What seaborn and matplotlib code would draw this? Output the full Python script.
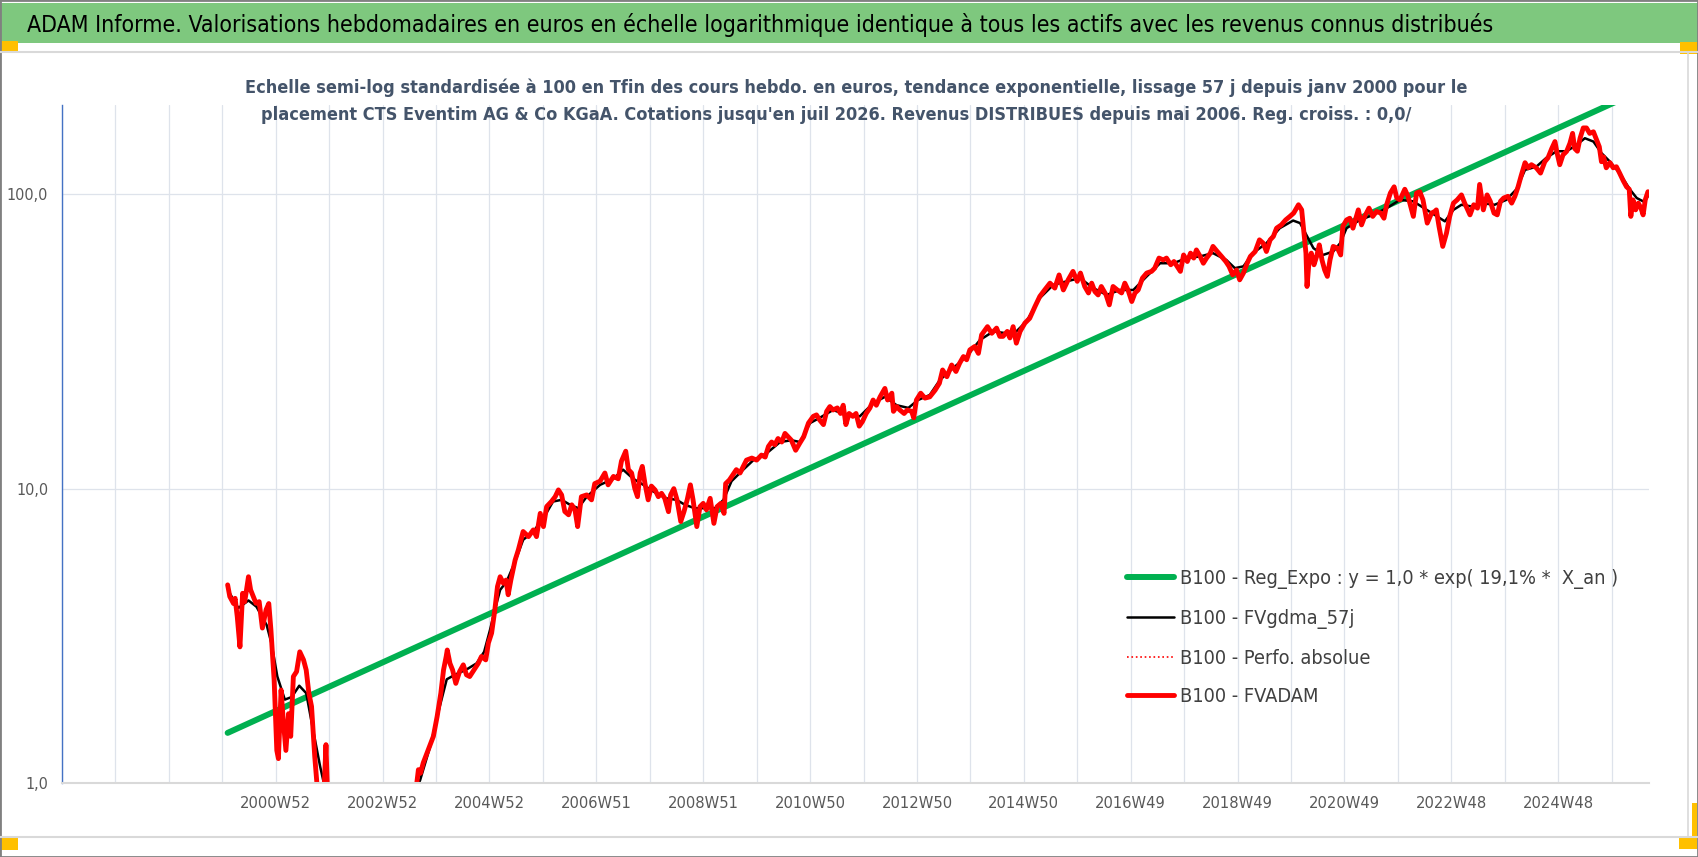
import matplotlib
matplotlib.use("Agg")
import matplotlib.pyplot as plt
import seaborn as sns
from matplotlib import font_manager
from matplotlib.font_manager import FontProperties
from matplotlib.patches import Rectangle
from matplotlib.lines import Line2D
from matplotlib.textpath import TextPath
from matplotlib.ticker import NullLocator

# ---- data (x = year position on the weekly axis) ----
red_year = [
    2000.10, 2000.14, 2000.21, 2000.24, 2000.28, 2000.33, 2000.38, 2000.42, 2000.49, 2000.53,
    2000.58, 2000.63, 2000.69, 2000.75, 2000.82, 2000.87, 2000.91, 2000.97, 2001.02, 2001.05,
    2001.10, 2001.14, 2001.19, 2001.24, 2001.28, 2001.33, 2001.39, 2001.45, 2001.52, 2001.57,
    2001.62, 2001.67, 2001.73, 2001.77, 2001.83, 2001.90, 2001.94, 2001.98, 2002.10, 2002.40,
    2002.70, 2003.00, 2003.30, 2003.55, 2003.64, 2003.67, 2003.71, 2003.76, 2003.85, 2003.95,
    2004.02, 2004.09, 2004.14, 2004.19, 2004.21, 2004.26, 2004.31, 2004.37, 2004.44, 2004.51,
    2004.57, 2004.63, 2004.71, 2004.79, 2004.85, 2004.93, 2004.98, 2005.04, 2005.10, 2005.15,
    2005.20, 2005.26, 2005.31, 2005.35, 2005.40, 2005.48, 2005.54, 2005.63, 2005.73, 2005.82,
    2005.88, 2005.95, 2006.01, 2006.07, 2006.16, 2006.23, 2006.29, 2006.35, 2006.41, 2006.48,
    2006.54, 2006.60, 2006.65, 2006.72, 2006.82, 2006.91, 2006.97, 2007.07, 2007.16, 2007.22,
    2007.32, 2007.41, 2007.47, 2007.55, 2007.60, 2007.66, 2007.72, 2007.77, 2007.82, 2007.86,
    2007.91, 2007.97, 2008.03, 2008.10, 2008.16, 2008.22, 2008.28, 2008.35, 2008.39, 2008.45,
    2008.51, 2008.58, 2008.64, 2008.70, 2008.76, 2008.81, 2008.88, 2008.94, 2009.00, 2009.06,
    2009.13, 2009.20, 2009.26, 2009.33, 2009.39, 2009.42, 2009.49, 2009.55, 2009.62, 2009.69,
    2009.75, 2009.81, 2009.91, 2010.00, 2010.09, 2010.16, 2010.22, 2010.28, 2010.34, 2010.40,
    2010.47, 2010.53, 2010.59, 2010.65, 2010.73, 2010.81, 2010.88, 2010.97, 2011.06, 2011.12,
    2011.18, 2011.25, 2011.31, 2011.37, 2011.43, 2011.51, 2011.57, 2011.62, 2011.67, 2011.73,
    2011.80, 2011.86, 2011.92, 2011.98, 2012.05, 2012.12, 2012.18, 2012.24, 2012.31, 2012.40,
    2012.45, 2012.53, 2012.56, 2012.62, 2012.68, 2012.76, 2012.82, 2012.90, 2012.94, 2012.99,
    2013.07, 2013.15, 2013.24, 2013.34, 2013.42, 2013.48, 2013.56, 2013.65, 2013.73, 2013.80,
    2013.87, 2013.93, 2013.99, 2014.08, 2014.15, 2014.21, 2014.32, 2014.40, 2014.49, 2014.55,
    2014.61, 2014.69, 2014.74, 2014.80, 2014.86, 2014.93, 2015.02, 2015.11, 2015.21, 2015.30,
    2015.39, 2015.49, 2015.58, 2015.66, 2015.74, 2015.83, 2015.92, 2016.00, 2016.06, 2016.14,
    2016.21, 2016.27, 2016.33, 2016.39, 2016.45, 2016.54, 2016.60, 2016.67, 2016.75, 2016.83,
    2016.89, 2016.95, 2017.02, 2017.08, 2017.14, 2017.22, 2017.30, 2017.39, 2017.45, 2017.53,
    2017.61, 2017.67, 2017.75, 2017.81, 2017.87, 2017.93, 2017.99, 2018.06, 2018.12, 2018.18,
    2018.23, 2018.30, 2018.36, 2018.42, 2018.49, 2018.54, 2018.62, 2018.70, 2018.78, 2018.84,
    2018.91, 2018.98, 2019.04, 2019.11, 2019.18, 2019.24, 2019.33, 2019.41, 2019.48, 2019.54,
    2019.61, 2019.67, 2019.73, 2019.82, 2019.90, 2019.98, 2020.05, 2020.14, 2020.20, 2020.24,
    2020.28, 2020.30, 2020.34, 2020.38, 2020.43, 2020.48, 2020.53, 2020.58, 2020.63, 2020.68,
    2020.73, 2020.79, 2020.87, 2020.93, 2020.97, 2021.04, 2021.10, 2021.16, 2021.26, 2021.32,
    2021.38, 2021.46, 2021.53, 2021.60, 2021.68, 2021.74, 2021.79, 2021.86, 2021.93, 2021.98,
    2022.04, 2022.13, 2022.19, 2022.29, 2022.35, 2022.41, 2022.47, 2022.55, 2022.63, 2022.69,
    2022.72, 2022.77, 2022.84, 2022.91, 2022.97, 2023.04, 2023.11, 2023.19, 2023.25, 2023.35,
    2023.42, 2023.49, 2023.53, 2023.60, 2023.67, 2023.73, 2023.80, 2023.86, 2023.92, 2023.98,
    2024.06, 2024.13, 2024.19, 2024.25, 2024.31, 2024.38, 2024.44, 2024.50, 2024.59, 2024.67,
    2024.75, 2024.81, 2024.88, 2024.94, 2024.98, 2025.03, 2025.09, 2025.16, 2025.22, 2025.27,
    2025.31, 2025.36, 2025.41, 2025.47, 2025.53, 2025.59, 2025.66, 2025.72, 2025.77, 2025.81,
    2025.85, 2025.90, 2025.97, 2026.03, 2026.09, 2026.15, 2026.22, 2026.28, 2026.33, 2026.36,
    2026.40, 2026.45, 2026.50, 2026.55, 2026.59, 2026.63, 2026.68,
]
red_val = [
    4.71, 4.30, 4.07, 4.24, 3.67, 2.90, 4.41, 4.13, 5.02, 4.53,
    4.30, 4.08, 4.13, 3.36, 3.88, 4.07, 3.31, 2.24, 1.29, 1.21,
    2.07, 1.64, 1.29, 1.72, 1.44, 2.30, 2.39, 2.79, 2.62, 2.42,
    2.02, 1.82, 1.23, 1.00, 0.80, 0.90, 1.35, 0.80, 0.60, 0.50,
    0.45, 0.50, 0.60, 0.80, 1.00, 1.11, 1.08, 1.17, 1.29, 1.44,
    1.68, 2.02, 2.42, 2.69, 2.83, 2.55, 2.42, 2.18, 2.39, 2.52,
    2.33, 2.30, 2.42, 2.55, 2.69, 2.62, 2.99, 3.23, 3.87, 4.65,
    5.02, 4.77, 4.89, 4.36, 4.89, 5.72, 6.19, 7.15, 6.87, 7.24,
    6.87, 8.24, 7.43, 8.69, 9.04, 9.39, 9.90, 9.52, 8.36, 8.15,
    8.81, 8.47, 7.43, 9.39, 9.52, 9.16, 10.4, 10.6, 11.3, 10.3,
    11.0, 10.8, 12.4, 13.4, 11.6, 11.3, 10.0, 9.39, 11.3, 11.9,
    10.4, 9.16, 10.2, 9.89, 9.39, 9.64, 9.27, 8.35, 9.52, 10.0,
    9.16, 7.73, 8.35, 9.16, 10.3, 9.16, 7.43, 8.69, 8.91, 8.47,
    9.27, 7.62, 8.69, 8.91, 8.24, 10.4, 10.7, 11.1, 11.6, 11.3,
    11.9, 12.5, 12.7, 12.5, 13.0, 12.8, 13.9, 14.4, 14.1, 14.8,
    14.4, 15.4, 15.0, 14.6, 13.5, 14.3, 15.0, 16.7, 17.6, 17.8,
    17.1, 16.5, 18.3, 19.0, 18.5, 18.8, 18.0, 19.2, 16.5, 18.0,
    17.6, 18.0, 16.3, 16.9, 18.0, 18.8, 20.0, 19.2, 20.5, 21.9,
    20.0, 21.1, 18.3, 19.0, 18.5, 18.0, 18.5, 18.3, 17.4, 20.0,
    21.1, 20.3, 20.5, 21.6, 22.8, 25.3, 24.0, 26.3, 25.0, 26.7,
    28.1, 27.4, 29.6, 30.4, 28.8, 33.3, 35.5, 33.7, 35.1, 32.9,
    32.9, 34.2, 32.5, 35.5, 31.2, 34.2, 36.5, 37.9, 41.6, 45.0,
    47.3, 49.9, 48.0, 53.2, 47.3, 51.2, 54.7, 50.6, 54.0, 48.6,
    46.2, 49.9, 46.7, 45.5, 48.6, 45.5, 42.1, 48.6, 47.3, 46.2,
    49.9, 47.3, 43.2, 46.2, 47.3, 51.9, 54.0, 54.7, 56.1, 60.7,
    59.8, 60.7, 57.6, 59.1, 56.9, 54.7, 62.2, 59.1, 63.1, 60.7,
    64.7, 61.5, 58.3, 60.7, 63.1, 66.5, 63.9, 61.5, 59.1, 56.9,
    53.2, 55.3, 51.2, 54.0, 58.3, 61.5, 63.9, 70.0, 68.2, 63.9,
    70.0, 71.9, 76.7, 78.7, 81.8, 84.1, 86.3, 92.1, 88.5, 74.6,
    63.1, 48.6, 59.8, 63.1, 57.6, 61.5, 67.3, 59.8, 55.3, 52.6,
    59.8, 66.5, 65.6, 62.2, 77.8, 81.8, 82.9, 76.7, 88.5, 78.7,
    84.1, 89.7, 84.1, 87.4, 86.3, 82.9, 92.1, 101, 106, 97.1,
    95.7, 104, 98.4, 84.1, 101, 102, 95.7, 79.8, 86.3, 87.4,
    88.5, 77.8, 66.5, 73.8, 84.1, 93.3, 95.7, 99.5, 93.3, 85.1,
    92.1, 89.7, 108, 88.5, 99.5, 94.6, 86.3, 85.1, 94.6, 97.1,
    98.4, 93.3, 98.4, 106, 116, 128, 123, 126, 123, 118,
    129, 133, 143, 151, 138, 126, 136, 140, 149, 161,
    143, 140, 155, 168, 168, 161, 163, 153, 145, 129,
    134, 123, 128, 123, 124, 118, 111, 106, 104, 84.1,
    95.7, 88.5, 93.3, 89.7, 85.1, 95.7, 102,
]

black_year = [
    2000.14, 2000.30, 2000.49, 2000.64, 2000.83, 2000.92, 2001.03, 2001.17, 2001.30, 2001.44,
    2001.57, 2001.70, 2001.83, 2001.90, 2002.00, 2002.50, 2003.00, 2003.50, 2003.70, 2003.89,
    2004.07, 2004.20, 2004.35, 2004.57, 2004.76, 2004.90, 2005.01, 2005.10, 2005.20, 2005.32,
    2005.48, 2005.63, 2005.82, 2006.01, 2006.19, 2006.35, 2006.51, 2006.66, 2006.82, 2007.07,
    2007.32, 2007.50, 2007.69, 2007.88, 2008.07, 2008.31, 2008.50, 2008.66, 2008.84, 2009.03,
    2009.22, 2009.38, 2009.53, 2009.75, 2009.94, 2010.19, 2010.44, 2010.65, 2010.81, 2011.00,
    2011.18, 2011.43, 2011.68, 2011.93, 2012.18, 2012.40, 2012.62, 2012.84, 2013.02, 2013.24,
    2013.43, 2013.68, 2013.93, 2014.18, 2014.43, 2014.68, 2014.86, 2015.05, 2015.30, 2015.55,
    2015.80, 2016.05, 2016.30, 2016.55, 2016.80, 2017.05, 2017.30, 2017.55, 2017.80, 2018.05,
    2018.30, 2018.54, 2018.79, 2018.95, 2019.11, 2019.29, 2019.54, 2019.79, 2020.04, 2020.17,
    2020.29, 2020.42, 2020.60, 2020.79, 2020.92, 2021.04, 2021.29, 2021.54, 2021.79, 2022.04,
    2022.29, 2022.54, 2022.79, 2022.88, 2023.04, 2023.19, 2023.38, 2023.57, 2023.81, 2024.03,
    2024.22, 2024.38, 2024.59, 2024.78, 2024.97, 2025.16, 2025.34, 2025.50, 2025.66, 2025.81,
    2025.97, 2026.15, 2026.34, 2026.47, 2026.59, 2026.68,
]
black_val = [
    4.41, 3.93, 4.17, 3.97, 3.44, 2.98, 2.30, 1.92, 1.96, 2.14,
    2.02, 1.51, 1.14, 1.00, 0.85, 0.60, 0.60, 0.85, 1.02, 1.33,
    1.82, 2.25, 2.33, 2.43, 2.55, 2.79, 3.31, 3.87, 4.53, 4.83,
    5.65, 6.70, 7.15, 7.93, 9.04, 9.16, 8.81, 8.58, 9.39, 10.3,
    10.8, 11.6, 10.8, 10.3, 9.77, 9.27, 9.16, 8.81, 8.58, 8.58,
    8.58, 9.16, 10.6, 11.6, 12.5, 13.2, 14.4, 14.6, 14.4, 16.7,
    17.4, 18.5, 17.8, 17.6, 19.5, 20.5, 19.2, 18.8, 20.0, 20.8,
    23.4, 25.7, 28.1, 32.0, 34.2, 33.7, 34.2, 37.0, 44.4, 49.2,
    50.6, 51.9, 48.0, 45.5, 47.3, 47.3, 52.6, 58.3, 58.3, 60.7,
    61.5, 63.1, 59.8, 56.1, 56.9, 63.1, 68.2, 76.7, 81.4, 79.8,
    72.7, 65.6, 62.2, 63.9, 68.2, 76.7, 81.8, 85.1, 89.7, 95.7,
    94.6, 88.5, 82.9, 80.9, 88.5, 92.1, 90.9, 93.3, 92.1, 95.7,
    104, 121, 124, 133, 140, 140, 147, 155, 151, 138,
    129, 118, 104, 97.1, 94.6, 98.4,
]

# exponential regression, drawn as a straight line on the log scale
reg_year = [2000.10, 2026.68]
reg_val = [1.48, 231]

grid_years = list(range(1997, 2027))
tick_text = {
    2001: "2000W52", 2003: "2002W52", 2005: "2004W52", 2007: "2006W51",
    2009: "2008W51", 2011: "2010W50", 2013: "2012W50", 2015: "2014W50",
    2017: "2016W49", 2019: "2018W49", 2021: "2020W49", 2023: "2022W48",
    2025: "2024W48",
}
y_ticks = [1, 10, 100]
y_tick_labels = ["1,0", "10,0", "100,0"]

title = ("ADAM Informe. Valorisations hebdomadaires en euros en échelle logarithmique "
         "identique à tous les actifs avec les revenus connus distribués")
sub1 = ("Echelle semi-log standardisée à 100 en Tfin des cours hebdo. en euros, tendance "
        "exponentielle, lissage 57 j depuis janv 2000 pour le")
sub2 = ("placement CTS Eventim AG & Co KGaA. Cotations jusqu'en juil 2026. Revenus "
        "DISTRIBUES depuis mai 2006. Reg. croiss. : 0,0/")
labels = ["B100 - Reg_Expo : y = 1,0 * exp( 19,1% *  X_an )", "B100 - FVgdma_57j",
          "B100 - Perfo. absolue", "B100 - FVADAM"]

# ---- style: look for a narrow font (Calibri-like look), else Lato ----
sns.set_style("white")
family, stretch = "Lato", "normal"
for f in font_manager.fontManager.ttflist:
    st = str(f.stretch)
    if f.style == "normal" and ("Narrow" in f.name or "Condensed" in f.name or "condensed" in st):
        family, stretch = f.name, st
        break
plt.rcParams["font.family"] = [family, "DejaVu Sans"]
plt.rcParams["font.stretch"] = stretch

W, H = 1698, 857
PX = 100 / 72  # pixels per point
fig = plt.figure(figsize=(W / 100, H / 100), dpi=100)
r = fig.canvas.get_renderer()


def size_for(s, width_px, **kw):
    t = fig.text(0, 0, s, fontsize=10, **kw)
    w = t.get_window_extent(r).width
    t.remove()
    return 10 * width_px / w


def size_for_height(s, height_px):
    h = TextPath((0, 0), s, size=10, prop=FontProperties()).get_extents().height
    return 10 * height_px / (h * PX)


ax = fig.add_axes([62 / W, 1 - 783 / H, (1649 - 62) / W, (783 - 105) / H])

sns.lineplot(x=reg_year, y=reg_val, ax=ax, color="#00B050", linewidth=4.3, label=labels[0])
sns.lineplot(x=black_year, y=black_val, ax=ax, color="black", linewidth=1.8, label=labels[1])
sns.lineplot(x=red_year, y=red_val, ax=ax, color="red", linewidth=1.2, linestyle=":",
             label=labels[2])
sns.lineplot(x=red_year, y=red_val, ax=ax, color="red", linewidth=3.5, label=labels[3])

ax.set_yscale("log")
ax.set_ylim(1, 201)
ax.set_xlim(1997, 2026.70)
ax.yaxis.set_minor_locator(NullLocator())
ax.set_yticks(y_ticks)
ax.set_yticklabels(y_tick_labels)
ax.set_xticks(grid_years)
ax.set_xticklabels([tick_text.get(y, "") for y in grid_years])
ax.grid(True, color="#DEE3EB", linewidth=0.9)
ax.set_axisbelow(True)
ax.set_xlabel("")
ax.set_ylabel("")

for s in ["top", "right"]:
    ax.spines[s].set_visible(False)
ax.spines["left"].set_color("#4472C4")
ax.spines["left"].set_linewidth(1.0)
ax.spines["bottom"].set_color("#D9D9D9")
ax.spines["bottom"].set_linewidth(1.5)

# tick label sizes: between matching the width and the digit height
ysize = 0.35 * size_for("100,0", 36) + 0.65 * size_for_height("100", 13)
xsize = 0.35 * size_for("2000W52", 64) + 0.65 * size_for_height("2000", 13)
ax.tick_params(axis="y", length=0, pad=10, labelsize=ysize, labelcolor="#595959")
ax.tick_params(axis="x", length=3.6, width=1, color="#D9D9D9", direction="out", pad=6,
               labelsize=xsize, labelcolor="#595959")

lsize = 0.5 * (size_for(labels[0], 423) + size_for_height("B100", 15.5))
probe = fig.text(0, 0, labels[1], fontsize=lsize)
row_h = probe.get_window_extent(r).height
probe.remove()
lpx = lsize * PX
leg = ax.legend(loc="upper left", bbox_to_anchor=(1127 / W, 1 - (579 - row_h / 2) / H),
                bbox_transform=fig.transFigure, frameon=False, fontsize=lsize,
                borderpad=0, borderaxespad=0, handlelength=47 / lpx,
                handletextpad=6 / lpx, labelspacing=(39.8 - row_h) / lpx)
for t in leg.get_texts():
    t.set_color("#404040")

# ---- frame, title bar and text ----
fig.add_artist(Rectangle((0, 1 - 43 / H), 1, 40 / H, transform=fig.transFigure,
                         facecolor="#7EC87E", edgecolor="none", zorder=0))
for yy in [52, 837]:
    fig.add_artist(Line2D([0, 1], [1 - yy / H] * 2, transform=fig.transFigure,
                          color="#D9D9D9", linewidth=1.5))
fig.add_artist(Line2D([1688 / W] * 2, [1 - 837 / H, 1 - 52 / H], transform=fig.transFigure,
                      color="#D9D9D9", linewidth=1.2))
for (x0, y0, w, h) in [(0, 41, 18, 11), (1680, 42, 18, 12), (0, 838, 18, 12),
                       (1679, 838, 18, 11), (1692, 803, 5, 46)]:
    fig.add_artist(Rectangle((x0 / W, 1 - (y0 + h) / H), w / W, h / H, transform=fig.transFigure,
                             facecolor="#FFC000", edgecolor="none"))
fig.add_artist(Rectangle((0, 0), 1, 1, transform=fig.transFigure, fill=False,
                         edgecolor="#808080", linewidth=2))

fig.text(27 / W, 1 - 32 / H, title, fontsize=size_for(title, 1469), color="black",
         va="baseline", ha="left")
s1 = size_for(sub1, 1215, weight="bold")
fig.text(856 / W, 1 - 93 / H, sub1, fontsize=s1, color="#44546A", weight="bold",
         va="baseline", ha="center")
fig.text(836 / W, 1 - 120 / H, sub2, fontsize=s1, color="#44546A", weight="bold",
         va="baseline", ha="center")

fig.savefig("out.png", dpi=100, facecolor="white")
